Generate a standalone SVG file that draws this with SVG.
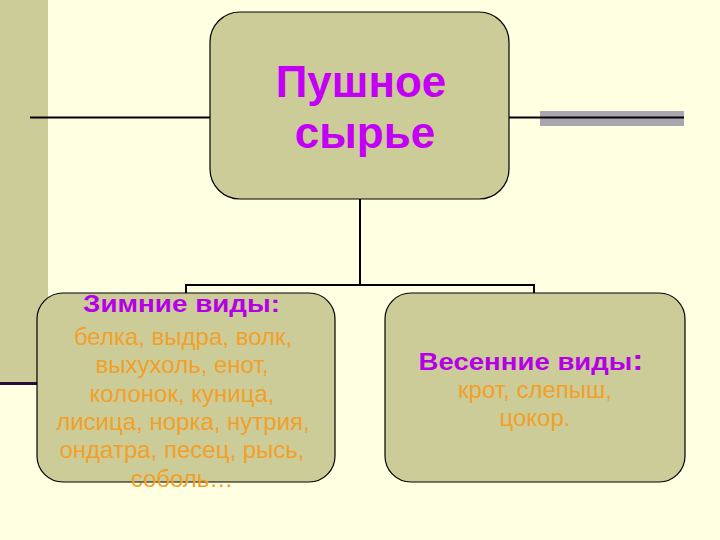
<svg xmlns="http://www.w3.org/2000/svg" width="720" height="540" viewBox="0 0 720 540">
<style>
.box{fill:#cccc99;stroke:#000;stroke-width:1.2}
.ln{stroke:#000;stroke-width:2;fill:none}
.ttl{font-family:"Liberation Sans",Arial,sans-serif;font-weight:bold;fill:#c300f5;text-anchor:middle;font-size:44px}
.hd{font-family:"Liberation Sans",Arial,sans-serif;font-weight:bold;fill:#b400e6;text-anchor:middle}
.it{font-family:"Liberation Sans",Arial,sans-serif;fill:#f2a028;text-anchor:middle;font-size:24px}
</style>
<rect width="720" height="540" fill="#ffffe2"/>
<rect x="0" y="0" width="48" height="382" fill="#cccc99"/>
<line x1="0" y1="383.5" x2="48" y2="383.5" stroke="#2a0a3a" stroke-width="3"/>
<rect x="540" y="111" width="144" height="15" fill="#aaa6b0"/>
<g id="connectors">
<line class="ln" x1="30" y1="117.5" x2="210" y2="117.5"/>
<line class="ln" x1="509" y1="117.5" x2="684" y2="117.5"/>
<polyline class="ln" points="360,199 360,285"/>
<polyline class="ln" points="186,294 186,285 534,285 534,294"/>
</g>
<g id="node-top">
<rect class="box" x="210" y="12" width="299" height="187" rx="30"/>
<text class="ttl" x="361" y="97">Пушное</text>
<text class="ttl" x="365" y="148">сырье</text>
</g>
<g id="node-winter">
<rect class="box" x="37" y="293" width="298" height="189" rx="26"/>
<text class="hd" x="181.5" y="312" font-size="24" textLength="197" lengthAdjust="spacingAndGlyphs">Зимние виды:</text>
<text class="it" x="183" y="345">белка, выдра, волк,</text>
<text class="it" x="182" y="373">выхухоль, енот,</text>
<text class="it" x="182" y="402">колонок, куница,</text>
<text class="it" x="183" y="430">лисица, норка, нутрия,</text>
<text class="it" x="182" y="458">ондатра, песец, рысь,</text>
<text class="it" x="182" y="487">соболь…</text>
</g>
<g id="node-spring">
<rect class="box" x="385" y="293" width="300" height="189" rx="26"/>
<text class="hd" x="531" y="370" font-size="24" textLength="225" lengthAdjust="spacingAndGlyphs">Весенние виды<tspan font-size="29">:</tspan></text>
<text class="it" x="535" y="398">крот, слепыш,</text>
<text class="it" x="535" y="426">цокор.</text>
</g>
</svg>
